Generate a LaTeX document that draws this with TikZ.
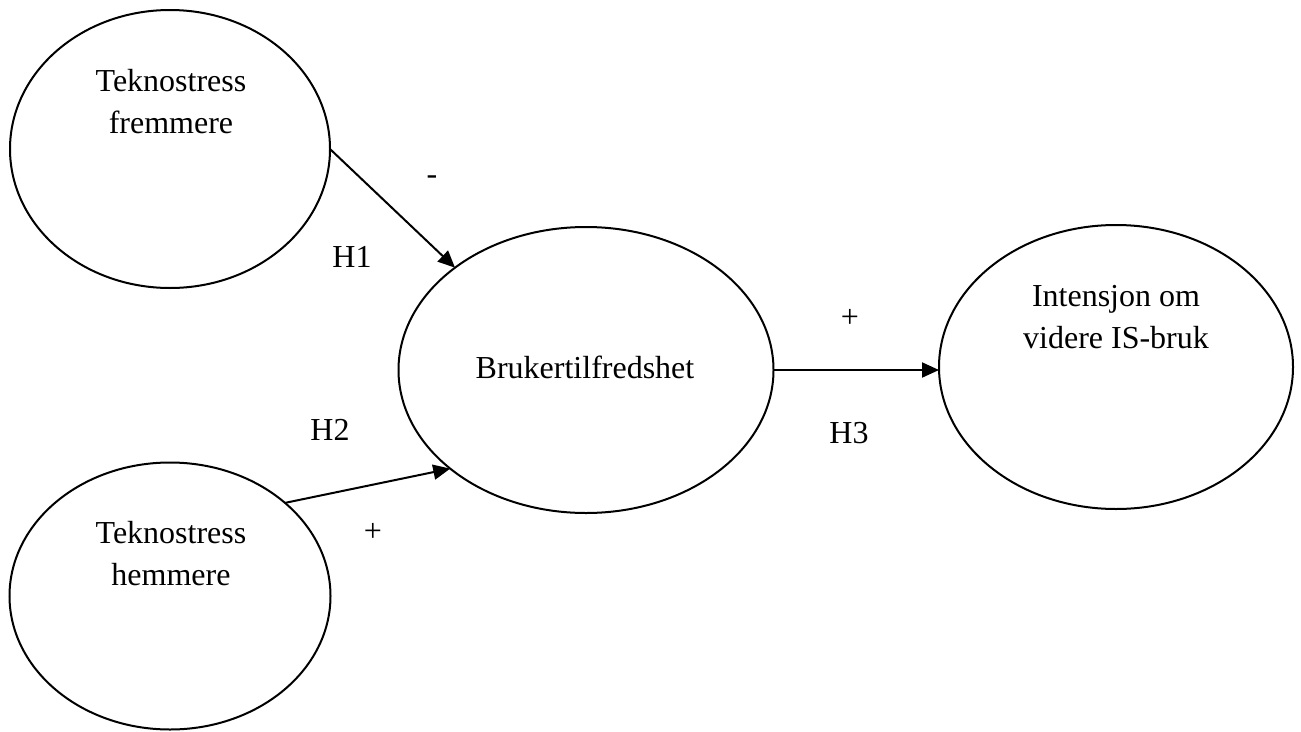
\documentclass[tikz,border=0pt]{standalone}
\usepackage{fontspec}
\setmainfont{Liberation Serif}
\usetikzlibrary{shapes.geometric,arrows.meta}
\tikzset{
  oval/.style={ellipse, draw=black, line width=2pt, inner sep=0pt, outer sep=0pt},
  ovaltext/.style={align=center, anchor=base, inner sep=0pt, font=\fontsize{32}{42}\selectfont},
  lbl/.style={inner sep=0pt, font=\fontsize{32}{42}\selectfont},
  arr/.style={line width=2pt, -{Triangle[length=17pt,width=15pt]}}
}
\begin{document}
\begin{tikzpicture}[x=1pt,y=-1pt]
\useasboundingbox (0,0) rectangle (1301,731);
% ellipses
\node[oval, minimum width=320pt, minimum height=278pt] (E1) at (170,149) {};
\node[oval, minimum width=321pt, minimum height=267pt] (E2) at (170,596) {};
\node[oval, minimum width=375pt, minimum height=286pt] (E3) at (586,370) {};
\node[oval, minimum width=354pt, minimum height=284pt] (E4) at (1116,367) {};
% texts (anchor base = baseline of last line)
\node[ovaltext] (T1) at (171,133) {Teknostress\\fremmere};
\node[ovaltext] (T2) at (171,585) {Teknostress\\hemmere};
\node[ovaltext] (T3) at (585,378) {Brukertilfredshet};
\node[ovaltext] (T4) at (1116,348) {Intensjon om\\videre IS-bruk};
% connectors
\draw[arr] (E1.east) -- (E3.142.5);
\draw[arr] (E2.39.8) -- (E3.216.7);
\draw[arr] (E3.east) -- (E3.east -| E4.west);
% labels
\node[lbl] (L1) at (432,180) {-};
\node[lbl] (H1) at (352,257) {H1};
\node[lbl] (H2) at (330,430) {H2};
\node[lbl] (L2) at (373,532) {+};
\node[lbl] (L3) at (850,318) {+};
\node[lbl] (H3) at (849,433) {H3};
\end{tikzpicture}
\end{document}
